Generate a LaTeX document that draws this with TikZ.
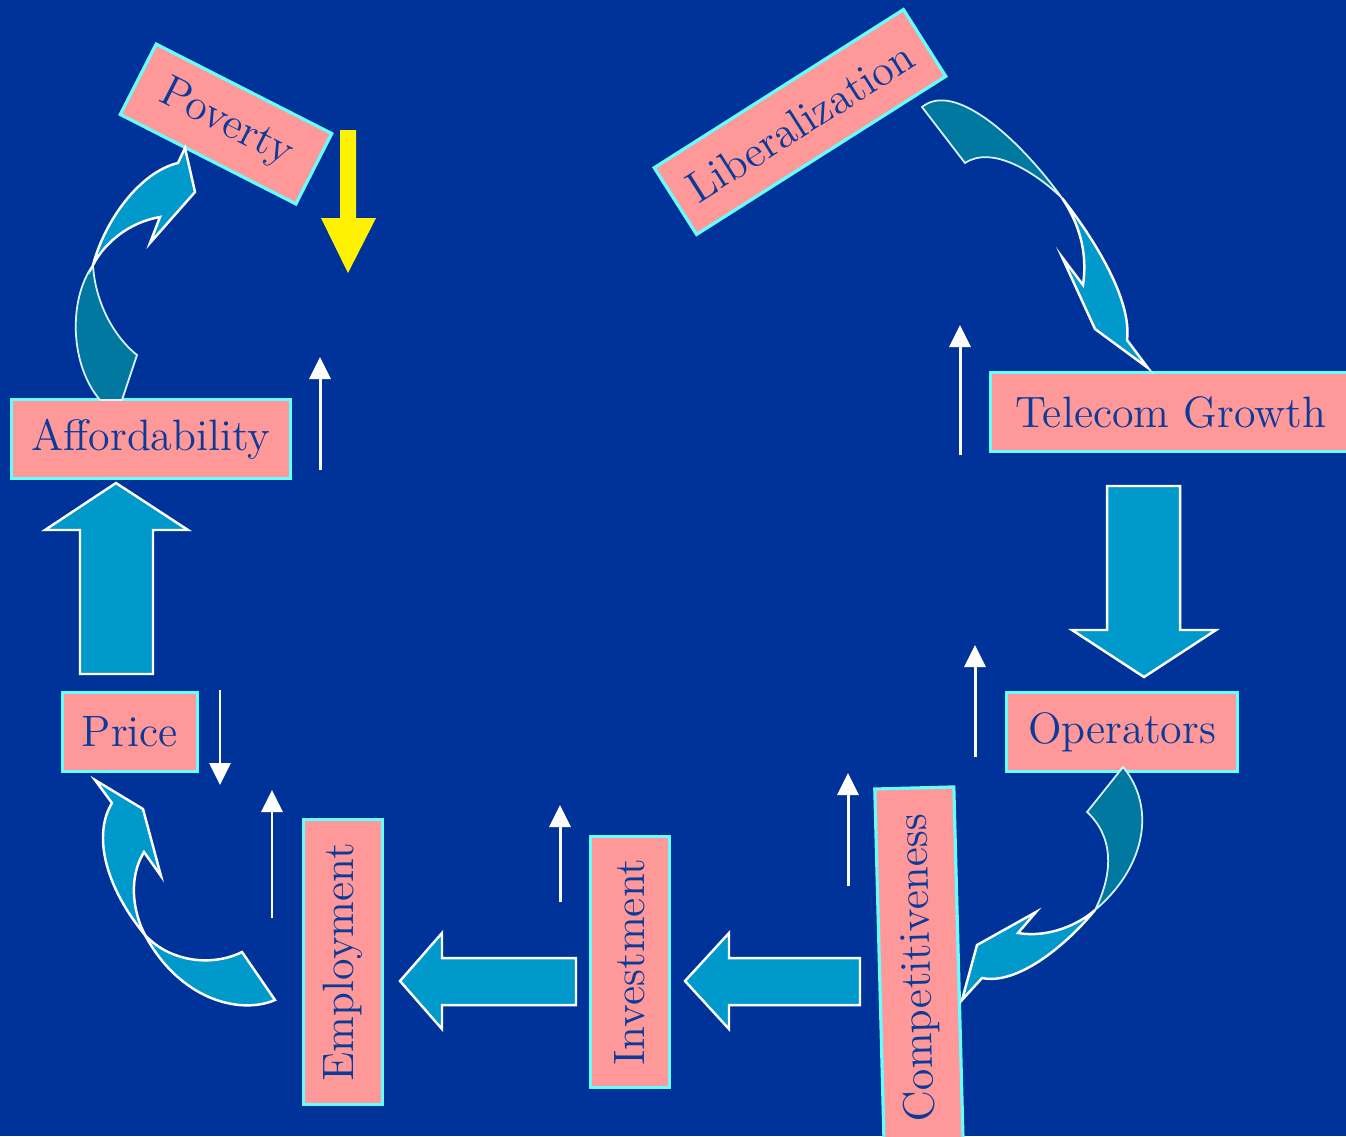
\documentclass[tikz,border=0pt]{standalone}
\usetikzlibrary{arrows.meta,positioning,shapes}
\usepackage{xcolor}

\definecolor{slidebg}{HTML}{003399}
\definecolor{boxpink}{HTML}{FF9999}
\definecolor{boxline}{HTML}{66FFFF}
\definecolor{labelblue}{HTML}{0A3A9A}
\definecolor{arrowlight}{HTML}{0099CC}
\definecolor{arrowdark}{HTML}{0078A0}

\begin{document}
\begin{tikzpicture}[x=0.01cm, y=-0.01cm,
    factor/.style={
        rectangle,
        draw=boxline,
        line width=0.9pt,
        fill=boxpink,
        text=labelblue,
        inner sep=0pt,
        minimum height=0.79cm,
        font=\fontsize{12.5}{15}\selectfont
    },
    fatarrow/.style={fill=arrowlight, draw=white, line width=0.7pt, line join=miter},
    backarrow/.style={fill=arrowdark, draw=white!85!cyan, line width=0.5pt},
    thinarrow/.style={draw=white, line width=0.85pt, -{Triangle[width=0.21cm,length=0.22cm]}}
]
    \fill[slidebg] (0,0) rectangle (1346,1136);
    \useasboundingbox (0,0) rectangle (1346,1136);
    \clip (0,0) rectangle (1346,1136);

    % factor boxes
    \node (poverty) [factor, rotate=-27, minimum width=1.97cm] at (226,124) {Poverty};
    \node (liberalization) [factor, rotate=32.4, minimum width=2.95cm] at (800,122) {Liberalization};
    \node (telecom_growth) [factor, minimum width=3.6cm] at (1171,412) {Telecom Growth};
    \node (operators) [factor, minimum width=2.31cm] at (1122,732) {Operators};
    \node (affordability) [factor, minimum width=2.79cm] at (151,439) {Affordability};
    \node (price) [factor, minimum width=1.35cm] at (130,732) {Price};
    \node (employment) [factor, rotate=90, minimum width=2.85cm] at (343,962) {Employment};
    \node (investment) [factor, rotate=90, minimum width=2.51cm] at (630,962) {Investment};
    \node (competitiveness) [factor, rotate=91.5, minimum width=3.6cm] at (919,968) {Competitiveness};

    % block arrows
    \draw[fatarrow] (80,674) -- (80,530) -- (45,530) -- (116,483) -- (188,530) -- (153,530) -- (153,674) -- cycle;
    \draw[fatarrow] (1107,486) -- (1107,630) -- (1072,630) -- (1144,677) -- (1216,630) -- (1180,630) -- (1180,486) -- cycle;
    \draw[fatarrow] (576,958) -- (442,958) -- (442,933) -- (400,981) -- (442,1029) -- (442,1005) -- (576,1005) -- cycle;
    \draw[fatarrow] (860,958) -- (729,958) -- (729,933) -- (685,981) -- (729,1029) -- (729,1005) -- (860,1005) -- cycle;

    % curved arrows
    \draw[backarrow] (93,265) .. controls (68,300) and (70,365) .. (100,400) -- (122,400) -- (137,355)
        .. controls (112,335) and (95,300) .. (93,265) -- cycle;
    \draw[fatarrow] (93,265) .. controls (105,220) and (140,172) .. (178,163) -- (185,148) -- (195,192) -- (150,243) -- (160,217)
        .. controls (130,222) and (105,242) .. (93,265) -- cycle;

    \draw[backarrow] (922,107) .. controls (955,80) and (1020,140) .. (1062,198)
        .. controls (1035,172) and (992,145) .. (965,163) -- cycle;
    \draw[fatarrow] (1062,198) .. controls (1095,240) and (1132,300) .. (1127,340) -- (1148,368) -- (1095,329) -- (1062,257) -- (1083,285)
        .. controls (1088,250) and (1078,222) .. (1062,198) -- cycle;

    \draw[backarrow] (1123,767) .. controls (1155,805) and (1148,865) .. (1095,910)
        .. controls (1115,870) and (1112,835) .. (1087,812) -- cycle;
    \draw[fatarrow] (1095,910) .. controls (1062,950) and (1015,985) .. (982,978) -- (962,1000) -- (977,945) -- (1036,912) -- (1018,933)
        .. controls (1048,938) and (1078,925) .. (1095,910) -- cycle;

    \draw[fatarrow] (242,952) -- (275,1000) .. controls (240,1015) and (180,1000) .. (145,935)
        .. controls (170,962) and (212,967) .. (242,952) -- cycle;
    \draw[fatarrow] (145,935) .. controls (100,880) and (95,830) .. (112,803) -- (95,780) -- (143,809) -- (161,876) -- (144,852)
        .. controls (128,878) and (133,912) .. (145,935) -- cycle;

    % yellow arrow
    \fill[yellow] (340,130) -- (356,130) -- (356,218) -- (376,218) -- (348,273) -- (321,218) -- (340,218) -- cycle;

    % small white arrows
    \draw[thinarrow] (320,470) -- (320,357);
    \draw[thinarrow] (960,455) -- (960,325);
    \draw[thinarrow] (220,690) -- (220,785);
    \draw[thinarrow] (272,918) -- (272,790);
    \draw[thinarrow] (560,902) -- (560,805);
    \draw[thinarrow] (848,886) -- (848,773);
    \draw[thinarrow] (975,757) -- (975,645);
\end{tikzpicture}
\end{document}
